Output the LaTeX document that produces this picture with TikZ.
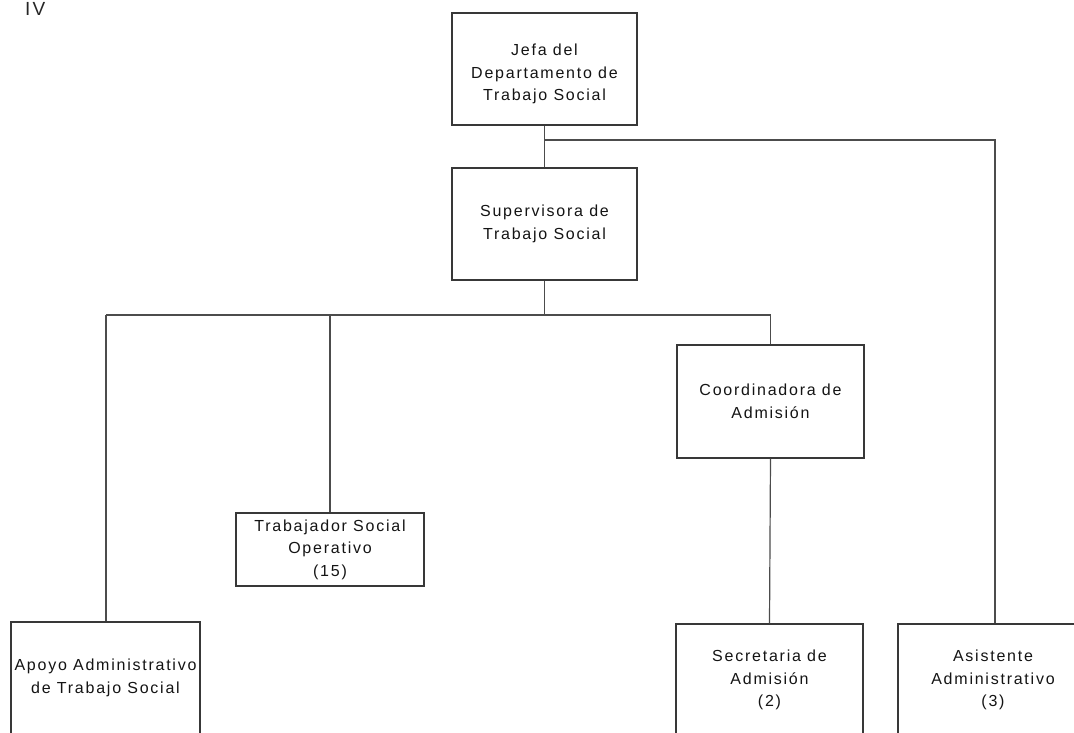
\documentclass[tikz,border=0pt]{standalone}
\usepackage{fontspec}
\setmainfont{Liberation Sans}[LetterSpace=11]
\begin{document}
\begin{tikzpicture}[x=1pt,y=-1pt,
  txt/.style={align=center,font=\fontsize{16}{22.5}\selectfont,text=black!92},
  box/.style={draw=black!78,line width=1.2pt,fill=white,inner sep=0pt,txt},
  conn/.style={draw=black!70,line width=1.2pt}]
\useasboundingbox (0,0) rectangle (1074,732);
\clip (0,0) rectangle (1074,732);
\node[anchor=base west,font=\fontsize{19}{21}\selectfont,text=black!85,inner sep=0pt] (iv) at (25,15) {IV};
% boxes
\node[box,minimum width=185pt,minimum height=112pt,
  label={[txt,yshift=-5pt]center:Jefa del\\Departamento de\\Trabajo Social}] (jefa) at (544.5,69) {};
\node[box,minimum width=185pt,minimum height=112pt] (sup) at (544.5,224) {Supervisora de\\Trabajo Social};
\node[box,minimum width=187pt,minimum height=113pt] (coord) at (770.5,401.5) {Coordinadora de\\Admisión};
\node[box,minimum width=188pt,minimum height=73pt] (trab) at (330,549.5) {Trabajador Social\\Operativo\\(15)};
\node[box,minimum width=189pt,minimum height=112pt] (apoyo) at (105.5,678) {Apoyo Administrativo\\de Trabajo Social};
\node[box,minimum width=187pt,minimum height=112pt] (secr) at (769.5,680) {Secretaria de\\Admisión\\(2)};
\node[box,minimum width=190pt,minimum height=112pt] (asis) at (993,680) {Asistente\\Administrativo\\(3)};
% connectors
\coordinate (j1) at (544.5,140);
\coordinate (s1) at (544.5,315);
\coordinate (hl) at (106,315);
\coordinate (ht) at (330,315);
\coordinate (hr) at (770.5,315);
\coordinate (jr) at (995,140);
\draw[conn] (jefa.south) -- (sup.north);
\draw[conn] (j1) -- (jr) -- (asis.north -| jr);
\draw[conn] (sup.south) -- (s1);
\draw[conn] (hl) -- (hr);
\draw[conn] (hl) -- (hl |- apoyo.north);
\draw[conn] (ht) -- (trab.north);
\draw[conn] (hr) -- (coord.north);
\draw[conn] (coord.south) -- (secr.north);
\end{tikzpicture}
\end{document}
